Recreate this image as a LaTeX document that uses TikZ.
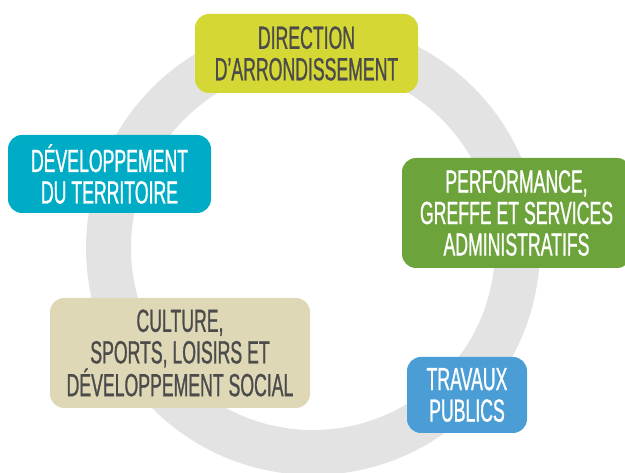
\documentclass[tikz,border=0pt]{standalone}
\usepackage{fontspec}
\newfontfamily\unitfont{Liberation Sans}[FakeStretch=0.552,FakeBold=0.8]
\usepackage{tikz}
\usetikzlibrary{positioning}
\definecolor{ringgray}{HTML}{E3E3E3}
\definecolor{limegreen}{HTML}{D4D734}
\definecolor{teal}{HTML}{00ACC5}
\definecolor{leafgreen}{HTML}{6CA33A}
\definecolor{beige}{HTML}{DFD8B7}
\definecolor{skyblue}{HTML}{4A9DD5}
\definecolor{darktext}{HTML}{4B4B4B}

\begin{document}
\begin{tikzpicture}[x=1pt,y=1pt]
\tikzstyle{unit}=[rectangle,rounded corners=14pt,
inner sep=0pt,outer sep=0pt,align=center,
font=\unitfont\fontsize{32}{31.5}\selectfont]
\useasboundingbox (0,0) rectangle (625,473);

% ring behind the units
\coordinate (c) at (313,225);
\draw[ringgray,line width=45pt] (c) circle (204.5);

\node[unit,fill=limegreen,text=darktext,minimum width=223pt,minimum height=79pt] at (306.5,419.5) (dir) {DIRECTION\\D’ARRONDISSEMENT};
\node[unit,fill=teal,text=white,minimum width=203pt,minimum height=78pt] at (109.5,299) (terr) {DÉVELOPPEMENT\\DU TERRITOIRE};
\node[unit,fill=leafgreen,text=white,minimum width=229pt,minimum height=110pt] at (516.5,260) (perf) {PERFORMANCE,\\GREFFE ET SERVICES\\ADMINISTRATIFS};
\node[unit,fill=beige,text=darktext,minimum width=260pt,minimum height=110pt] at (180,120) (cult) {CULTURE,\\SPORTS, LOISIRS ET\\DÉVELOPPEMENT SOCIAL};
\node[unit,fill=skyblue,text=white,minimum width=120pt,minimum height=76pt] at (467,78) (trav) {TRAVAUX\\PUBLICS};

\end{tikzpicture}
\end{document}
